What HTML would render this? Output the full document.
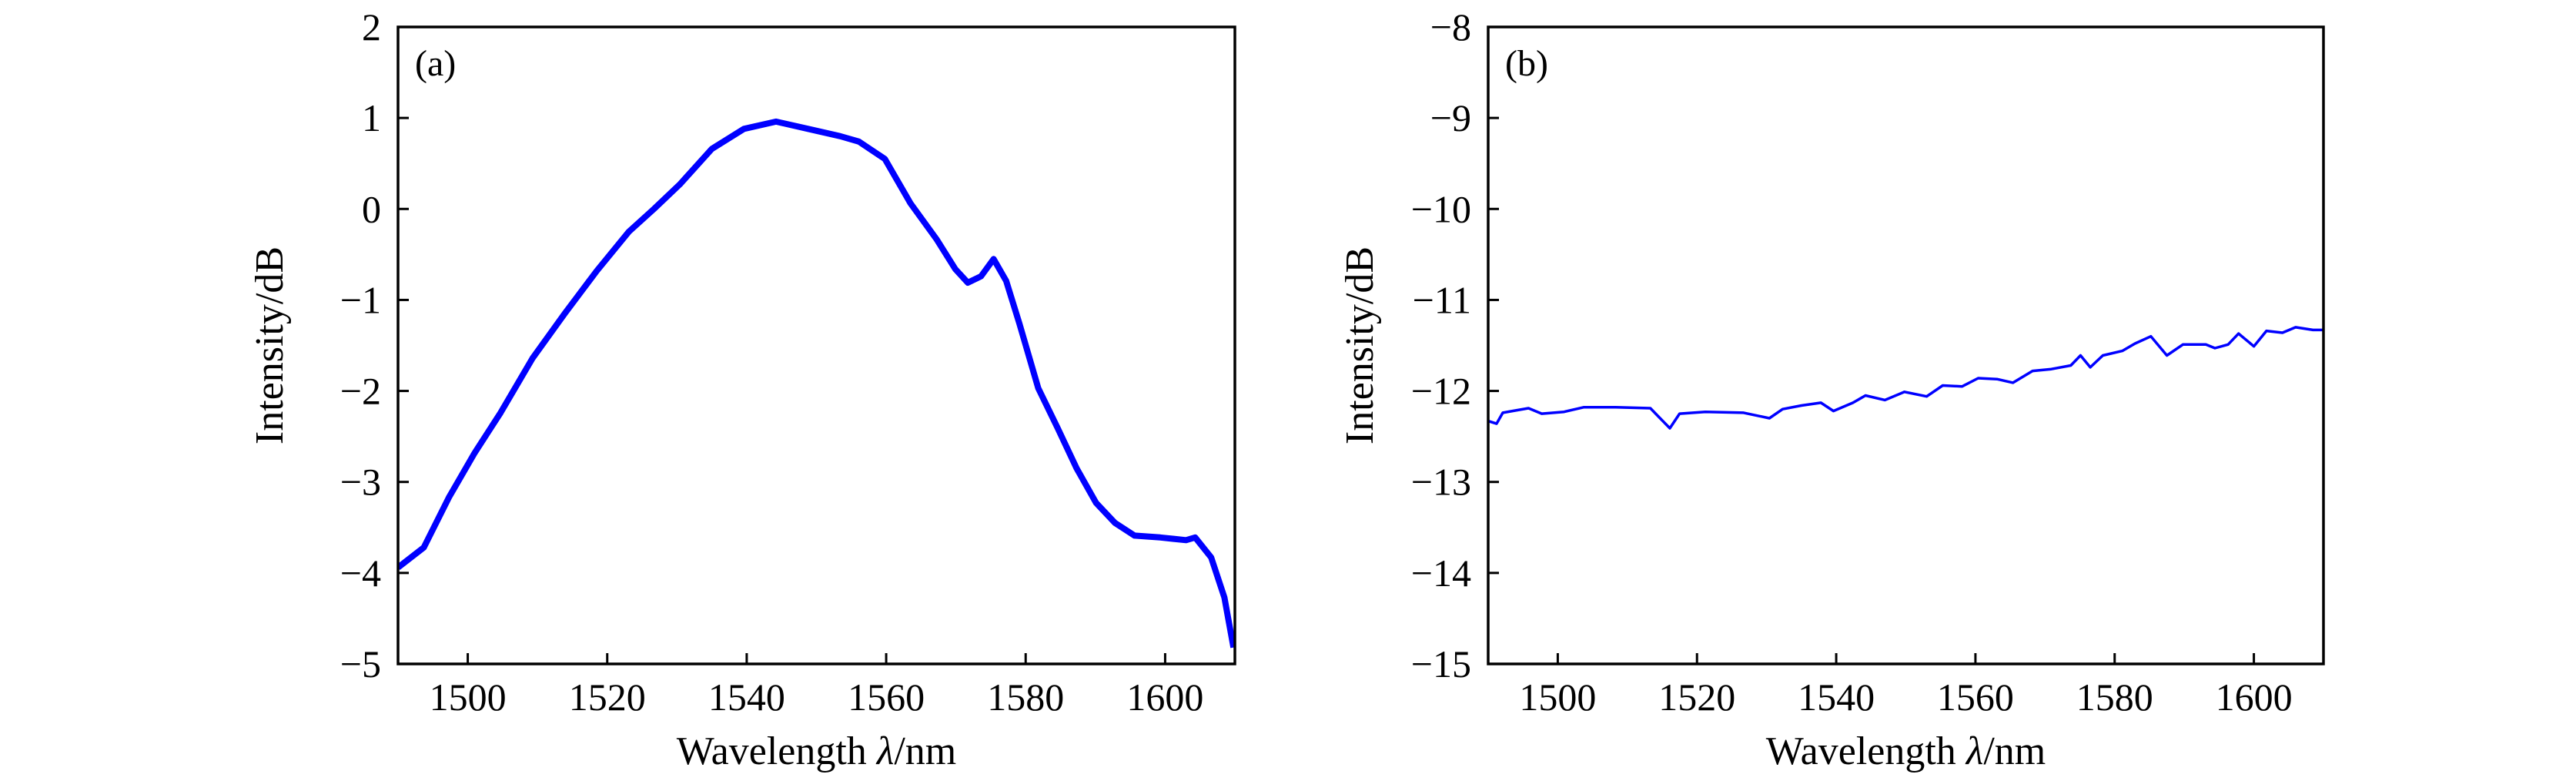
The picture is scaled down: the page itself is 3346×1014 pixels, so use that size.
<!DOCTYPE html>
<html><head><meta charset="utf-8">
<style>
html,body{margin:0;padding:0;background:#fff;}
svg{display:block;}
text{font-family:"Liberation Serif",serif;fill:#000;}
</style></head>
<body>
<svg id="chart" width="3346" height="1014" viewBox="0 0 3346 1014" xmlns="http://www.w3.org/2000/svg"></svg>
<script>
// Panel (a) data
const wlA = [1490,1493.7,1497.3,1501,1504.7,1509.3,1513.9,1518.5,1523.1,1526.7,1530.4,1535,1539.6,1544.2,1548.8,1553.4,1556.1,1559.8,1563.5,1567.2,1569.9,1571.7,1573.6,1575.4,1577.2,1579.1,1581.8,1584.6,1587.3,1590.1,1592.8,1595.6,1599.3,1603,1604.3,1606.6,1608.5,1609.8];
const dbA = [-3.94,-3.72,-3.17,-2.68,-2.24,-1.64,-1.15,-0.68,-0.25,0.0,0.27,0.66,0.88,0.96,0.88,0.80,0.74,0.55,0.06,-0.33,-0.66,-0.81,-0.74,-0.55,-0.79,-1.26,-1.97,-2.41,-2.85,-3.23,-3.45,-3.59,-3.61,-3.64,-3.61,-3.83,-4.27,-4.82];
// Panel (b) data
const wlB = [1490,1491.2,1492.1,1493.5,1495.8,1497.7,1500.9,1503.7,1508.3,1513.3,1514.7,1516.1,1517.5,1521.2,1526.7,1530.4,1532.3,1535,1537.8,1539.6,1542.4,1544.2,1547,1549.8,1553,1555.3,1558.1,1560.4,1563.1,1565.4,1568.2,1570.9,1573.7,1575.1,1576.5,1578.3,1581.1,1582.9,1585.2,1587.5,1589.8,1593.1,1594.4,1596.3,1597.8,1600,1601.8,1604.1,1606,1608.5,1610];
const dbB = [-12.33,-12.36,-12.24,-12.22,-12.19,-12.25,-12.23,-12.18,-12.18,-12.19,-12.30,-12.41,-12.25,-12.23,-12.24,-12.30,-12.20,-12.16,-12.13,-12.22,-12.13,-12.05,-12.10,-12.01,-12.06,-11.94,-11.95,-11.86,-11.87,-11.91,-11.78,-11.76,-11.72,-11.61,-11.74,-11.61,-11.56,-11.48,-11.40,-11.61,-11.49,-11.49,-11.53,-11.49,-11.37,-11.51,-11.34,-11.36,-11.30,-11.33,-11.33];
const xTicks = [1500,1520,1540,1560,1580,1600];
const yTicksA = [2,1,0,-1,-2,-3,-4,-5];
const yTicksB = [-8,-9,-10,-11,-12,-13,-14,-15];

const NS = "http://www.w3.org/2000/svg";
const svg = document.getElementById('chart');
function mk(tag, attrs, parent){ const e=document.createElementNS(NS,tag); for(const k in attrs) e.setAttribute(k,attrs[k]); (parent||svg).appendChild(e); return e; }

function panel(id, left, right, yMin, yMax, yTicks, wl, db, lw, label){
  const top=35, bottom=862;
  const g = mk('g',{});
  
  
  const sx = v => left + (v-1490)/(1610-1490)*(right-left);
  const sy = v => bottom - (v-yMin)/(yMax-yMin)*(bottom-top);
  let d = '';
  for(let i=0;i<wl.length;i++){ d += (i?'L':'M') + sx(wl[i]).toFixed(1)+','+sy(db[i]).toFixed(1); }
  const clip = mk('clipPath',{id:'clip-'+id}, g);
  mk('rect',{x:left,y:top,width:right-left,height:bottom-top}, clip);
  const p = mk('path',{d:d,fill:'none',stroke:'#0000ff','stroke-width':lw,'stroke-linejoin':'round','clip-path':'url(#clip-'+id+')'}, g);
  
  
  const f = mk('rect',{x:left,y:top,width:right-left,height:bottom-top,fill:'none',stroke:'#000','stroke-width':3.5}, g);
  
  
  xTicks.forEach(t=>{
    const x=sx(t);
    mk('line',{x1:x,y1:bottom,x2:x,y2:bottom-14,stroke:'#000','stroke-width':3}, g);
    const tx = mk('text',{x:x,y:922,'font-size':50,'text-anchor':'middle'}, g);
    tx.textContent = t;
    
    
  });
  yTicks.forEach(t=>{
    const y=sy(t);
    if(t!==yMax && t!==yMin) mk('line',{x1:left,y1:y,x2:left+14,y2:y,stroke:'#000','stroke-width':3}, g);
    const ty = mk('text',{x:left-22,y:y+17,'font-size':50,'text-anchor':'end'}, g);
    ty.textContent = t<0 ? '\u2212'+Math.abs(t) : String(t);
    
    
  });
  const xt = mk('text',{x:(left+right)/2,y:992,'font-size':52,'text-anchor':'middle'}, g);
  xt.innerHTML = 'Wavelength <tspan font-style="italic">\u03bb</tspan>/nm';
  
  
  const yx = left-150, yy=(top+bottom)/2;
  const yt = mk('text',{x:yx,y:yy,'font-size':52,'text-anchor':'middle',transform:'rotate(-90 '+yx+' '+yy+')'}, g);
  yt.textContent = 'Intensity/dB';
  
  
  const pl = mk('text',{x:left+22,y:98,'font-size':48}, g);
  pl.textContent = label;
  
  
}
panel('a', 517, 1604, -5, 2, yTicksA, wlA, dbA, 8, '(a)');
panel('b', 1933, 3018, -15, -8, yTicksB, wlB, dbB, 3.5, '(b)');
</script>
</body></html>
